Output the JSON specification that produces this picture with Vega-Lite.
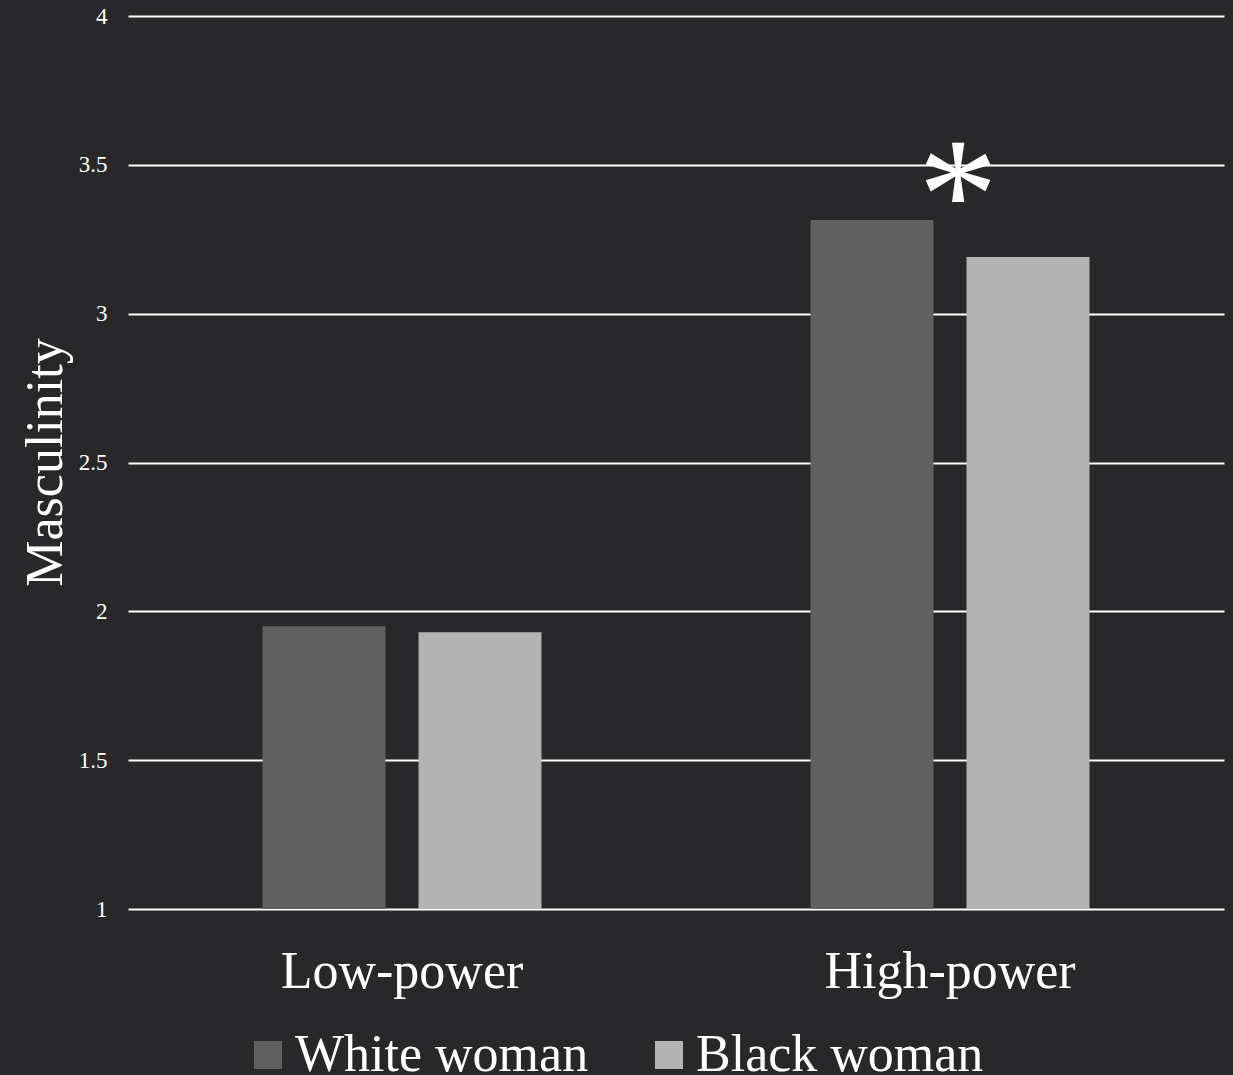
{
  "$schema": "https://vega.github.io/schema/vega-lite/v6.json",
  "autosize": "none",
  "width": 1096,
  "height": 893,
  "padding": {"left": 128, "top": 16, "right": 9, "bottom": 166},
  "background": "#28282a",
  "config": {
    "view": {"stroke": null},
    "font": "Liberation Serif"
  },
  "datasets": {
    "bars": [
      {"power": "Low-power", "race": "White woman", "value": 1.95},
      {"power": "Low-power", "race": "Black woman", "value": 1.93},
      {"power": "High-power", "race": "White woman", "value": 3.315},
      {"power": "High-power", "race": "Black woman", "value": 3.19}
    ],
    "notes": [
      {"power": "High-power", "label": "*", "value": 3.22}
    ]
  },
  "layer": [
    {
      "data": {"name": "bars"},
      "mark": {"type": "bar"},
      "encoding": {
        "x": {
          "field": "power",
          "type": "nominal",
          "sort": ["Low-power", "High-power"],
          "scale": {"paddingInner": 0, "paddingOuter": 0},
          "axis": {
            "title": null,
            "domain": false,
            "ticks": false,
            "labelAngle": 0,
            "labelFont": "Liberation Serif",
            "labelFontSize": 52,
            "labelColor": "#ffffff",
            "labelBaseline": "alphabetic",
            "labelPadding": 78,
            "labelLimit": 0
          }
        },
        "xOffset": {
          "field": "race",
          "sort": ["White woman", "Black woman"],
          "scale": {"paddingInner": 0.2115, "paddingOuter": 0.862}
        },
        "y": {
          "field": "value",
          "type": "quantitative",
          "scale": {"domain": [1, 4], "zero": false, "nice": false},
          "axis": {
            "values": [1, 1.5, 2, 2.5, 3, 3.5, 4],
            "format": "~g",
            "domain": false,
            "ticks": false,
            "grid": true,
            "gridColor": "#ffffff",
            "gridWidth": 2,
            "gridOpacity": 1,
            "labelFont": "Liberation Serif",
            "labelFontSize": 23,
            "labelColor": "#ffffff",
            "labelPadding": 21,
            "title": "Masculinity",
            "titleFont": "Liberation Serif",
            "titleFontSize": 52,
            "titleFontWeight": "normal",
            "titleColor": "#ffffff",
            "titleAngle": -90,
            "titleAlign": "center",
            "titleBaseline": "middle",
            "titleX": -83,
            "titleY": 446
          }
        },
        "y2": {"datum": 1},
        "color": {
          "field": "race",
          "type": "nominal",
          "sort": ["White woman", "Black woman"],
          "scale": {"domain": ["White woman", "Black woman"], "range": ["#606060", "#b3b3b3"]},
          "legend": {
            "title": null,
            "orient": "none",
            "direction": "horizontal",
            "legendX": 114,
            "legendY": 1013,
            "padding": 0,
            "symbolType": "square",
            "symbolSize": 784,
            "symbolStrokeWidth": 0,
            "symbolOpacity": 1,
            "labelFont": "Liberation Serif",
            "labelFontSize": 52,
            "labelColor": "#ffffff",
            "labelOffset": 1,
            "columnPadding": 54,
            "labelLimit": 0
          }
        }
      }
    },
    {
      "data": {"name": "notes"},
      "mark": {"type": "text", "font": "Liberation Serif", "fontSize": 160, "color": "#ffffff", "baseline": "alphabetic", "align": "center", "dx": 8},
      "encoding": {
        "x": {"field": "power", "type": "nominal", "sort": ["Low-power", "High-power"]},
        "y": {"field": "value", "type": "quantitative"},
        "text": {"field": "label"}
      }
    }
  ]
}
